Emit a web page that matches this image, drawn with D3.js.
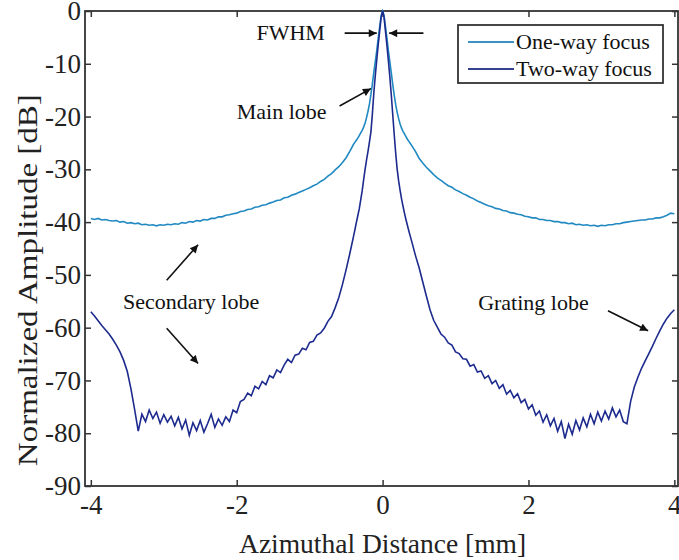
<!DOCTYPE html>
<html lang="en">
  <head>
    <meta charset="utf-8" />
    <title>Beam profile - one-way vs two-way focus</title>
    <script type="text/javascript" src="https://cdn.jsdelivr.net/npm/d3@7"></script>
    <style>
      body {
        margin: 0;
        background: white;
      }
      svg text {
        font-family: "Liberation Serif", "Times New Roman", serif;
      }
      .axis path.domain {
        display: none;
      }
      .axis line {
        stroke: #333;
        stroke-width: 1.5px;
      }
      .axis text {
        font-family: "Liberation Serif", "Times New Roman", serif;
        font-size: 27px;
        fill: #222;
      }
      .frame {
        fill: none;
        stroke: #333;
        stroke-width: 1.8px;
      }
      .axis_label {
        font-size: 27.5px;
        fill: #222;
      }
      path.line_one {
        fill: none;
        stroke: #2189c2;
        stroke-width: 1.6px;
      }
      path.line_two {
        fill: none;
        stroke: #1d2b8e;
        stroke-width: 1.6px;
      }
      .note {
        font-size: 22px;
        fill: #111;
      }
      .arrow {
        stroke: #111;
        stroke-width: 1.6px;
      }
      .legend_box {
        fill: white;
        stroke: #333;
        stroke-width: 1.8px;
      }
      .legend text {
        font-size: 22px;
        fill: #111;
      }
    </style>
  </head>

  <body>
    <script type="text/javascript">
      let w = 679;
      let h = 560;
      let frame = { left: 85, right: 678, top: 11, bottom: 486 };

      // sample positions (mm), finer around the main lobe
      let distance = [
        -4.00, -3.95, -3.90, -3.85, -3.80, -3.75, -3.70, -3.65, -3.60, -3.55,
        -3.50, -3.45, -3.40, -3.35, -3.30, -3.25, -3.20, -3.15, -3.10, -3.05,
        -3.00, -2.95, -2.90, -2.85, -2.80, -2.75, -2.70, -2.65, -2.60, -2.55,
        -2.50, -2.45, -2.40, -2.35, -2.30, -2.25, -2.20, -2.15, -2.10, -2.05,
        -2.00, -1.95, -1.90, -1.85, -1.80, -1.75, -1.70, -1.65, -1.60, -1.55,
        -1.50, -1.45, -1.40, -1.35, -1.30, -1.25, -1.20, -1.15, -1.10, -1.05,
        -1.00, -0.95, -0.90, -0.85, -0.80, -0.75, -0.70, -0.65, -0.60, -0.55,
        -0.50, -0.45,
        -0.40, -0.38, -0.36, -0.34, -0.32, -0.30, -0.28, -0.26, -0.24, -0.22,
        -0.20, -0.18, -0.16, -0.14, -0.12, -0.10, -0.08, -0.06, -0.04, -0.02,
        0,
        0.02, 0.04, 0.06, 0.08, 0.10, 0.12, 0.14, 0.16, 0.18, 0.20,
        0.22, 0.24, 0.26, 0.28, 0.30, 0.32, 0.34, 0.36, 0.38, 0.40,
        0.45, 0.50,
        0.55, 0.60, 0.65, 0.70, 0.75, 0.80, 0.85, 0.90, 0.95, 1.00,
        1.05, 1.10, 1.15, 1.20, 1.25, 1.30, 1.35, 1.40, 1.45, 1.50,
        1.55, 1.60, 1.65, 1.70, 1.75, 1.80, 1.85, 1.90, 1.95, 2.00,
        2.05, 2.10, 2.15, 2.20, 2.25, 2.30, 2.35, 2.40, 2.45, 2.50,
        2.55, 2.60, 2.65, 2.70, 2.75, 2.80, 2.85, 2.90, 2.95, 3.00,
        3.05, 3.10, 3.15, 3.20, 3.25, 3.30, 3.35, 3.40, 3.45, 3.50,
        3.55, 3.60, 3.65, 3.70, 3.75, 3.80, 3.85, 3.90, 3.95, 4.00
      ];

      let oneWay = [
        -39.3, -39.5, -39.3, -39.6, -39.5, -39.7, -39.8, -39.7, -40.0, -39.9,
        -40.2, -40.1, -40.3, -40.2, -40.5, -40.4, -40.6, -40.5, -40.7, -40.5,
        -40.6, -40.4, -40.5, -40.3, -40.4, -40.1, -40.2, -39.9, -40.0, -39.7,
        -39.8, -39.5, -39.6, -39.3, -39.3, -39.0, -39.0, -38.7, -38.6, -38.4,
        -38.3, -38.0, -37.9, -37.6, -37.5, -37.2, -37.1, -36.8, -36.7, -36.4,
        -36.2, -35.9, -35.8, -35.4, -35.3, -34.9, -34.7, -34.4, -34.1, -33.8,
        -33.5, -33.1, -32.8, -32.3, -31.9, -31.3, -30.8, -30.1, -29.5, -28.7,
        -27.8, -26.6,
        -25.3, -24.9, -24.5, -24.1, -23.6, -23.1, -22.6, -22.0, -21.2, -20.2,
        -19.0, -17.6, -15.8, -13.8, -11.6, -9.6, -7.5, -5.2, -3.0, -0.9,
        0,
        -0.9, -3.0, -5.2, -7.6, -9.7, -11.8, -14.0, -16.0, -17.8, -19.2,
        -20.4, -21.4, -22.2, -22.8, -23.3, -23.8, -24.3, -24.7, -25.1, -25.5,
        -26.6, -27.9,
        -28.8, -29.6, -30.3, -31.0, -31.6, -32.1, -32.6, -33.1, -33.4, -33.9,
        -34.2, -34.6, -34.9, -35.3, -35.6, -36.0, -36.3, -36.6, -36.9, -37.1,
        -37.4, -37.5, -37.8, -37.9, -38.2, -38.3, -38.5, -38.6, -38.9, -39.0,
        -39.2, -39.2, -39.5, -39.5, -39.7, -39.7, -39.9, -39.9, -40.1, -40.1,
        -40.3, -40.2, -40.5, -40.4, -40.6, -40.5, -40.7, -40.6, -40.8, -40.6,
        -40.7, -40.5, -40.5, -40.3, -40.3, -40.1, -40.0, -39.9, -39.8, -39.7,
        -39.6, -39.6, -39.4, -39.4, -39.2, -39.2, -39.0, -38.7, -38.3, -38.4
      ];

      let twoWay = [
        -57.0, -57.8, -58.7, -59.6, -60.4, -61.2, -62.2, -63.3, -64.6, -66.2,
        -68.3, -71.6, -75.5, -79.6, -76.4, -77.8, -75.6, -77.2, -76.0, -78.1,
        -76.5, -77.9, -76.8, -78.6, -77.0, -79.2, -77.5, -80.4, -78.0, -79.5,
        -77.6, -79.8, -78.2, -76.4, -78.9, -77.3, -78.5, -76.9, -77.8, -75.6,
        -76.1, -74.0, -73.6, -72.4, -72.9, -71.1, -71.6, -70.2, -70.8, -69.1,
        -69.5, -68.0, -68.5, -67.1, -66.0, -66.6, -65.2, -65.0, -63.9, -64.2,
        -62.8, -62.6, -61.4, -61.0, -60.1, -58.8, -57.9, -56.2, -54.3, -51.8,
        -49.0, -46.0,
        -42.8, -41.5, -40.1, -38.8, -37.5, -35.8, -34.1, -32.0, -30.0, -28.2,
        -26.6, -24.8, -22.9, -19.5, -15.5, -12.2, -9.2, -6.4, -3.8, -1.2,
        0,
        -1.2, -3.9, -6.6, -9.5, -12.6, -16.0, -19.8, -23.5, -27.0, -30.0,
        -32.2, -34.0, -35.6, -37.0, -38.3, -39.5, -40.6, -41.7, -42.7, -43.7,
        -46.3, -48.6,
        -51.3, -54.0, -56.6, -58.6, -59.9, -61.2, -61.8, -62.9, -63.3, -64.6,
        -64.9, -65.9, -66.0, -67.3, -67.0, -68.4, -68.2, -69.6, -69.1, -70.6,
        -70.0, -71.5, -70.8, -72.6, -71.9, -73.3, -72.5, -74.2, -73.6, -75.4,
        -74.6, -76.6, -75.8, -77.9, -76.5, -78.6, -77.2, -79.6, -77.8, -81.0,
        -78.3, -80.2, -77.6, -79.4, -77.1, -78.8, -76.4, -78.2, -76.0, -77.7,
        -75.8, -77.3, -75.2, -76.9, -75.6, -77.8, -78.2, -74.0, -71.3, -69.4,
        -67.7, -66.3, -64.9, -63.5, -62.0, -60.6, -59.3, -58.2, -57.3, -56.6
      ];

      let xTicks = [-4, -2, 0, 2, 4];
      let yTicks = [0, -10, -20, -30, -40, -50, -60, -70, -80, -90];
      let seriesNames = ["One-way focus", "Two-way focus"];

      // annotations in data units: [text, x, y]
      let notes = [
        ["FWHM", -1.73, -5.5],
        ["Main lobe", -2.0, -20.5],
        ["Secondary lobe", -3.56, -56.5],
        ["Grating lobe", 1.31, -56.6]
      ];
      // arrows in data units: [x1, y1, x2, y2]
      let arrows = [
        [-0.52, -4.2, -0.08, -4.2],
        [0.56, -4.2, 0.09, -4.2],
        [-0.59, -18.0, -0.16, -14.7],
        [-2.96, -51.0, -2.53, -44.3],
        [-2.96, -60.1, -2.53, -66.8],
        [3.09, -56.8, 3.64, -60.6]
      ];

      function draw() {
        let data = distance.map((d, i) => ({ x: d, one: oneWay[i], two: twoWay[i] }));

        let svg = d3
          .select("body")
          .append("svg")
          .attr("width", w)
          .attr("height", h);

        let x_scale = d3
          .scaleLinear()
          .domain([-4.08, 4.05])
          .range([frame.left, frame.right]);

        let y_scale = d3
          .scaleLinear()
          .domain([-90, 0])
          .range([frame.bottom, frame.top]);

        svg
          .append("defs")
          .append("clipPath")
          .attr("id", "plot_clip")
          .append("rect")
          .attr("x", frame.left)
          .attr("y", frame.top - 2)
          .attr("width", frame.right - frame.left)
          .attr("height", frame.bottom - frame.top + 2);

        svg
          .select("defs")
          .append("marker")
          .attr("id", "head")
          .attr("viewBox", "0 0 10 10")
          .attr("refX", 10)
          .attr("refY", 5)
          .attr("markerWidth", 10)
          .attr("markerHeight", 8)
          .attr("markerUnits", "userSpaceOnUse")
          .attr("orient", "auto")
          .append("path")
          .attr("d", "M0,0L10,5L0,10Z")
          .attr("fill", "#111");

        // axes with inward ticks on all four sides
        svg
          .append("g")
          .attr("class", "x axis")
          .attr("transform", `translate(0,${frame.bottom})`)
          .call(d3.axisBottom(x_scale).tickValues(xTicks).tickSize(-6).tickPadding(9).tickFormat((d) => String(d)));

        svg
          .append("g")
          .attr("class", "axis")
          .attr("transform", `translate(0,${frame.top})`)
          .call(d3.axisTop(x_scale).tickValues(xTicks).tickSize(-6).tickFormat(""));

        svg
          .append("g")
          .attr("class", "y axis")
          .attr("transform", `translate(${frame.left},0)`)
          .call(d3.axisLeft(y_scale).tickValues(yTicks).tickSize(-6).tickPadding(4).tickFormat((d) => String(d)));

        svg
          .append("g")
          .attr("class", "axis")
          .attr("transform", `translate(${frame.right},0)`)
          .call(d3.axisRight(y_scale).tickValues(yTicks).tickSize(-6).tickFormat(""));

        svg
          .append("rect")
          .attr("class", "frame")
          .attr("x", frame.left)
          .attr("y", frame.top)
          .attr("width", frame.right - frame.left)
          .attr("height", frame.bottom - frame.top);

        let lineOne = d3
          .line()
          .x((d) => x_scale(d.x))
          .y((d) => y_scale(d.one));

        let lineTwo = d3
          .line()
          .x((d) => x_scale(d.x))
          .y((d) => y_scale(d.two));

        let plot = svg.append("g").attr("clip-path", "url(#plot_clip)");

        plot.append("path").attr("class", "line_one").attr("d", lineOne(data));
        plot.append("path").attr("class", "line_two").attr("d", lineTwo(data));

        // axis labels
        svg
          .append("text")
          .attr("class", "axis_label")
          .attr("x", x_scale(0))
          .attr("y", 553)
          .attr("text-anchor", "middle")
          .text("Azimuthal Distance [mm]");

        svg
          .append("text")
          .attr("class", "axis_label")
          .attr("transform", `translate(37,${y_scale(-51)}) rotate(-90)`)
          .attr("text-anchor", "middle")
          .attr("textLength", 372)
          .attr("lengthAdjust", "spacingAndGlyphs")
          .text("Normalized Amplitude [dB]");

        // annotations
        svg
          .selectAll("text.note")
          .data(notes)
          .join("text")
          .attr("class", "note")
          .attr("x", (d) => x_scale(d[1]))
          .attr("y", (d) => y_scale(d[2]))
          .text((d) => d[0]);

        svg
          .selectAll("line.arrow")
          .data(arrows)
          .join("line")
          .attr("class", "arrow")
          .attr("x1", (d) => x_scale(d[0]))
          .attr("y1", (d) => y_scale(d[1]))
          .attr("x2", (d) => x_scale(d[2]))
          .attr("y2", (d) => y_scale(d[3]))
          .attr("marker-end", "url(#head)");

        // legend
        let legend = svg.append("g").attr("class", "legend").attr("transform", "translate(458,25)");

        legend.append("rect").attr("class", "legend_box").attr("width", 205).attr("height", 58);

        let items = legend
          .selectAll("g.item")
          .data(seriesNames)
          .join("g")
          .attr("class", "item")
          .attr("transform", (d, i) => `translate(0,${17 + i * 27})`);

        items
          .append("line")
          .attr("x1", 10)
          .attr("x2", 56)
          .attr("stroke", (d, i) => (i == 0 ? "#3d92c4" : "#34418e"))
          .attr("stroke-width", 2.2);

        items
          .append("text")
          .attr("x", 58)
          .attr("y", 7)
          .text((d) => d);
      }

      draw();
    </script>
  </body>
</html>
